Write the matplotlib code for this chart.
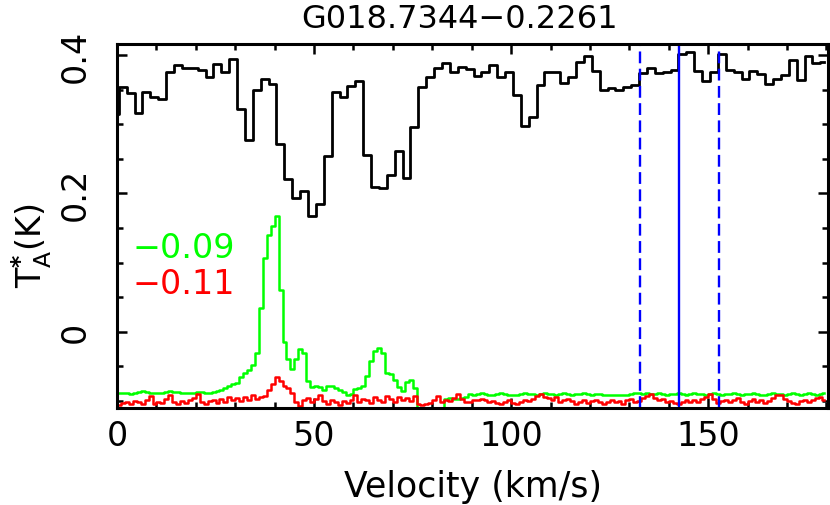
import numpy as np
import matplotlib
matplotlib.use("Agg")
import matplotlib.pyplot as plt

# =========================
# DATA
# =========================
title = "G018.7344\u22120.2261"

# coarse (2 km/s) spectrum, black
v_coarse = np.arange(-0.55, 180, 2.0)
black = [
    0.315, 0.354, 0.345, 0.317, 0.346, 0.339, 0.336, 0.375, 0.385, 0.381,
    0.381, 0.379, 0.368, 0.387, 0.376, 0.394, 0.322, 0.277, 0.349, 0.366,
    0.358, 0.271, 0.221, 0.194, 0.203, 0.168, 0.185, 0.254, 0.346, 0.339,
    0.356, 0.363, 0.255, 0.209, 0.208, 0.226, 0.261, 0.222, 0.296, 0.354,
    0.369, 0.382, 0.389, 0.376, 0.383, 0.380, 0.370, 0.376, 0.385, 0.368,
    0.376, 0.343, 0.297, 0.310, 0.357, 0.376, 0.376, 0.359, 0.369, 0.390,
    0.399, 0.377, 0.350, 0.353, 0.350, 0.354, 0.357, 0.374, 0.382, 0.374,
    0.376, 0.379, 0.402, 0.404, 0.377, 0.362, 0.376, 0.401, 0.378, 0.376,
    0.365, 0.377, 0.372, 0.358, 0.366, 0.371, 0.393, 0.364, 0.398, 0.388,
    0.390,
]

# fine (1 km/s) spectra, green and red, before offset
v_fine = np.arange(0.5, 180, 1.0)
green = [
    0.001, 0.002, 0.001, 0.000, 0.001, 0.003, 0.004, 0.003, 0.002, 0.001,
    0.002, 0.002, 0.003, 0.004, 0.003, 0.003, 0.002, 0.002, 0.001, 0.002,
    0.003, 0.003, 0.002, 0.002, 0.003, 0.004, 0.006, 0.008, 0.011, 0.014,
    0.016, 0.024, 0.031, 0.035, 0.042, 0.060, 0.125, 0.197, 0.230, 0.243,
    0.257, 0.150, 0.075, 0.051, 0.036, 0.050, 0.065, 0.060, 0.019, 0.010,
    0.011, 0.010, 0.006, 0.011, 0.011, 0.009, 0.006, 0.003, -0.001, 0.000,
    0.007, 0.008, 0.011, 0.026, 0.048, 0.062, 0.067, 0.060, 0.030, 0.029,
    0.020, 0.010, 0.005, 0.018, 0.020, 0.008, -0.11, -0.11, -0.11, -0.11,
    -0.11, -0.11, -0.11, -0.007, -0.006, -0.007, -0.007, -0.006, -0.005, 0.000,
    -0.001, 0.000, 0.001, 0.000, -0.001, -0.001, 0.000, 0.001, 0.000, -0.001,
    -0.002, -0.001, 0.000, 0.001, 0.000, 0.000, -0.001, 0.000, 0.001, 0.000,
    0.000, -0.001, 0.000, 0.001, 0.000, -0.001, 0.000, 0.000, 0.001, 0.000,
    -0.001, 0.000, 0.000, -0.001, -0.002, -0.002, -0.002, -0.001, -0.002, -0.001,
    0.000, 0.001, 0.001, 0.000, 0.001, 0.000, 0.000, 0.001, 0.000, -0.001,
    0.000, 0.000, 0.001, 0.000, -0.001, 0.000, 0.001, 0.000, 0.000, -0.001,
    0.000, 0.001, 0.000, -0.001, 0.000, 0.000, 0.001, 0.000, -0.001, 0.000,
    0.000, 0.001, 0.000, -0.001, -0.001, 0.000, 0.001, 0.000, 0.000, -0.001,
    0.000, 0.001, 0.000, -0.001, 0.000, 0.001, 0.000, -0.001, 0.000, 0.001,
]
red = [
    0.004, 0.007, 0.009, 0.006, 0.010, 0.008, 0.005, 0.011, 0.017, 0.006,
    0.009, 0.007, 0.013, 0.018, 0.008, 0.005, 0.010, 0.007, 0.011, 0.014,
    0.020, 0.009, 0.006, 0.010, 0.012, 0.007, 0.013, 0.009, 0.015, 0.011,
    0.014, 0.010, 0.016, 0.012, 0.019, 0.013, 0.015, 0.017, 0.026, 0.034,
    0.045, 0.039, 0.031, 0.028, 0.022, 0.009, 0.002, 0.011, 0.014, 0.009,
    0.013, 0.019, 0.010, 0.006, 0.012, 0.008, 0.004, 0.010, 0.007, 0.011,
    0.018, 0.009, 0.013, 0.011, 0.007, 0.016, 0.012, 0.009, 0.017, 0.013,
    0.008, 0.016, 0.011, 0.014, 0.010, 0.017, 0.006, 0.004, 0.005, 0.007,
    0.011, 0.017, 0.008, 0.011, 0.010, 0.014, 0.020, 0.013, 0.009, 0.008,
    0.012, 0.011, 0.013, 0.011, 0.008, 0.010, 0.007, 0.005, 0.008, 0.011,
    0.007, 0.006, 0.009, 0.012, 0.010, 0.013, 0.017, 0.020, 0.016, 0.014,
    0.012, 0.015, 0.009, 0.011, 0.013, 0.010, 0.006, 0.009, 0.011, 0.007,
    0.010, 0.012, 0.008, 0.005, 0.009, 0.012, 0.008, 0.010, 0.006, 0.011,
    0.013, 0.008, 0.010, 0.014, 0.017, 0.020, 0.014, 0.011, 0.013, 0.009,
    0.010, 0.007, 0.006, 0.009, 0.011, 0.008, 0.012, 0.009, 0.013, 0.016,
    0.020, 0.013, 0.007, 0.010, 0.012, 0.008, 0.011, 0.014, 0.009, 0.006,
    0.010, 0.013, 0.009, 0.011, 0.007, 0.010, 0.014, 0.018, 0.019, 0.013,
    0.010, 0.007, 0.005, 0.010, 0.012, 0.008, 0.011, 0.014, 0.016, 0.011,
]
offsets = [-0.09, -0.11]
offset_labels = ["\u22120.09", "\u22120.11"]

# velocity range marks (solid = centre, dashed = edges)
v_center = 142.6
v_edges = [132.7, 152.7]

# =========================
# PLOT
# =========================
plt.rcParams["font.family"] = "DejaVu Sans"

fig = plt.figure(figsize=(8.3, 5.06), dpi=100)
ax = fig.add_axes([0.141, 0.192, 0.8566, 0.719])

ax.step(v_coarse, black, where="mid", color="black", lw=2.0)
ax.step(v_fine, np.array(green) + offsets[0], where="mid", color="#00ff00", lw=1.8)
ax.step(v_fine, np.array(red) + offsets[1], where="mid", color="#ff0000", lw=1.8)

ax.axvline(v_center, color="#0000ff", lw=1.7)
for ve in v_edges:
    ax.axvline(ve, color="#0000ff", lw=1.7, dashes=(5.0, 2.3))

ax.set_xlim(0, 180.4)
ax.set_ylim(-0.11, 0.416)

ax.set_xticks([0, 50, 100, 150])
ax.set_xticks(np.arange(0, 181, 10), minor=True)
ax.set_yticks([0, 0.2, 0.4])
ax.set_yticklabels(["0", "0.2", "0.4"], rotation=90, va="center")
ax.set_yticks(np.arange(-0.1, 0.42, 0.05), minor=True)

ax.tick_params(which="both", direction="in", top=True, right=True, width=1.8)
ax.tick_params(which="major", length=7.5, labelsize=24)
ax.tick_params(which="minor", length=4.3)
ax.tick_params(axis="x", pad=8)
ax.tick_params(axis="y", pad=18)
for s in ax.spines.values():
    s.set_linewidth(2.2)

ax.set_xlabel("Velocity (km/s)", fontsize=25, labelpad=12)
ax.set_ylabel(r"$\mathregular{T_A^{\mathbf{*}}}$(K)", fontsize=24)
ax.yaxis.set_label_coords(-0.088, 0.45)
ax.set_title(title, fontsize=23, pad=12, x=0.482)

ax.text(0.022, 0.442, offset_labels[0], color="#00ff00", fontsize=24,
        transform=ax.transAxes, va="center", ha="left")
ax.text(0.022, 0.341, offset_labels[1], color="#ff0000", fontsize=24,
        transform=ax.transAxes, va="center", ha="left")

plt.savefig("out.png", dpi=100)
